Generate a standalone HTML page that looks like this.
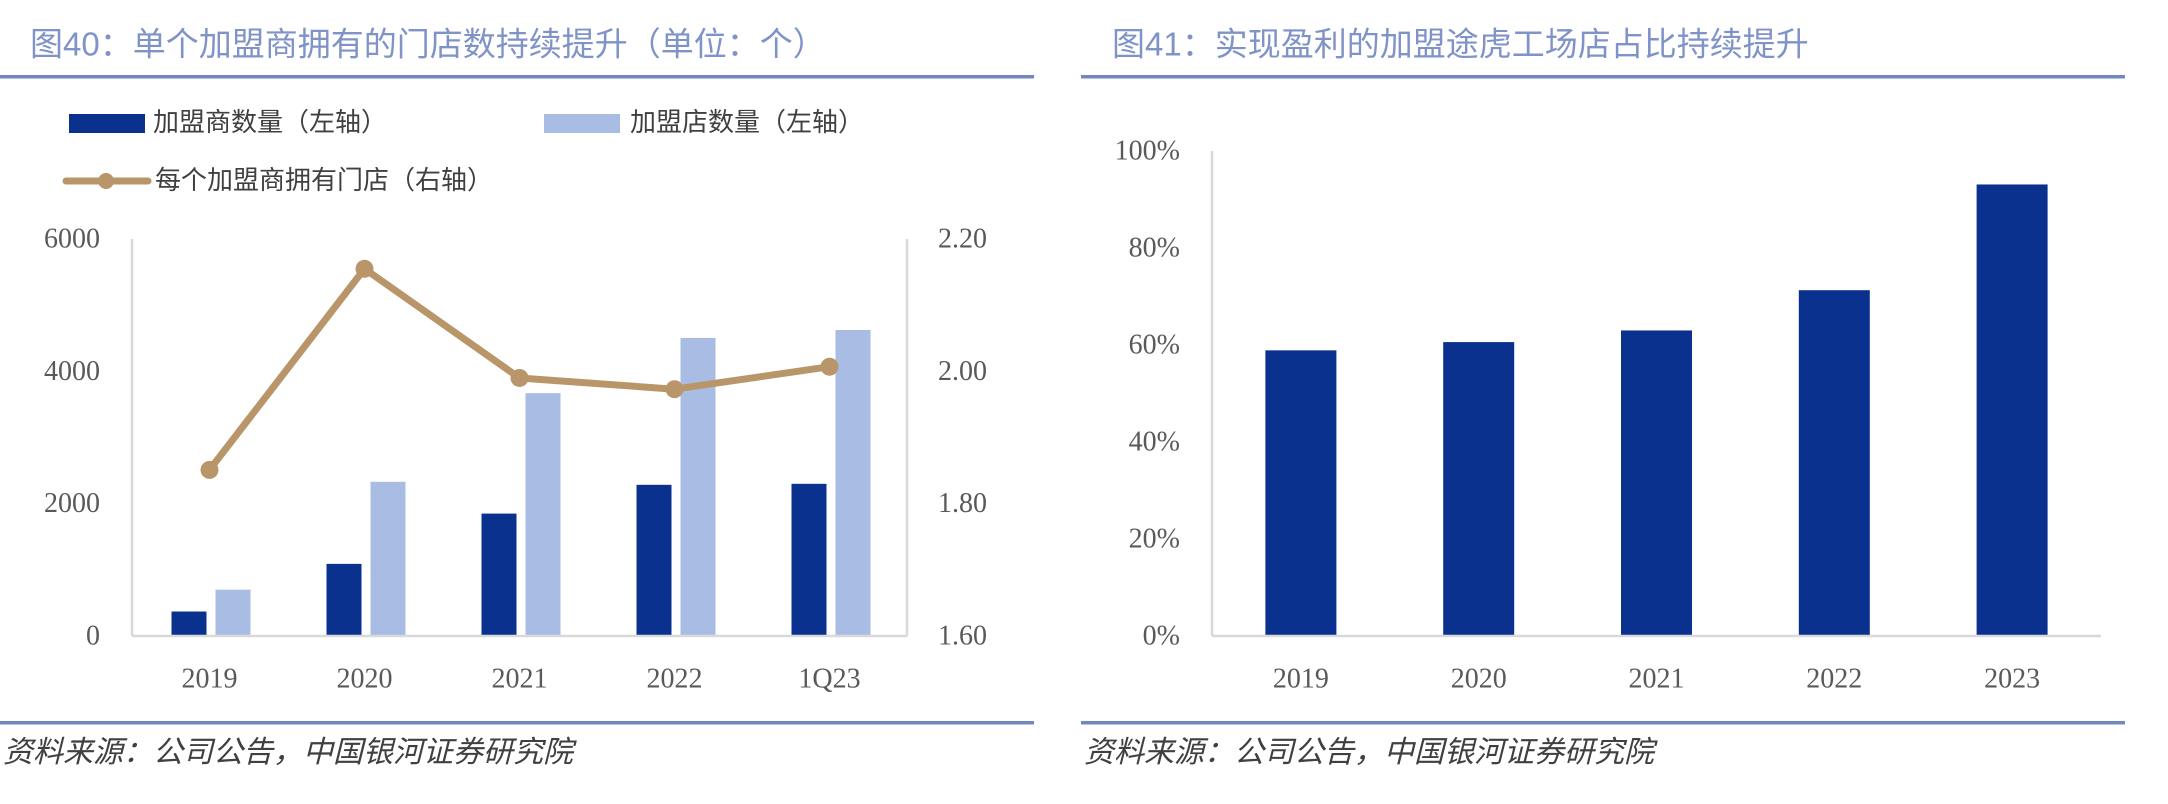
<!DOCTYPE html>
<html><head><meta charset="utf-8"><style>
html,body{margin:0;padding:0;background:#fff;}
svg{display:block;}
text{font-family:"Liberation Serif","Noto Serif CJK SC",serif;}
.cjk{font-family:"Liberation Sans","Noto Sans CJK SC",sans-serif;}
</style></head><body>
<svg id="s" width="2168" height="804" viewBox="0 0 2168 804" xmlns="http://www.w3.org/2000/svg">
<text class="cjk" x="30" y="47" font-size="33" fill="#7f93c8" dominant-baseline="middle">图40：单个加盟商拥有的门店数持续提升（单位：个）</text>
<rect x="0" y="75" width="1034" height="3.5" fill="#7089bd"/>
<text class="cjk" x="1112" y="47" font-size="33" fill="#7f93c8" dominant-baseline="middle">图41：实现盈利的加盟途虎工场店占比持续提升</text>
<rect x="1081" y="75" width="1044" height="3.5" fill="#7089bd"/>
<rect x="0" y="721" width="1034" height="3.5" fill="#7089bd"/>
<rect x="1081" y="721" width="1044" height="3.5" fill="#7089bd"/>
<text class="cjk" x="3" y="754" font-size="30" font-style="italic" fill="#404040" dominant-baseline="middle">资料来源：公司公告，中国银河证券研究院</text>
<text class="cjk" x="1084" y="754" font-size="30" font-style="italic" fill="#404040" dominant-baseline="middle">资料来源：公司公告，中国银河证券研究院</text>

<rect x="69" y="114" width="76" height="19" fill="#0b318f"/>
<text class="cjk" x="153" y="124" font-size="26" fill="#404040" dominant-baseline="middle">加盟商数量（左轴）</text>
<rect x="544" y="114" width="76" height="19" fill="#a9bde4"/>
<text class="cjk" x="630" y="124" font-size="26" fill="#404040" dominant-baseline="middle">加盟店数量（左轴）</text>
<line x1="66" y1="181" x2="148" y2="181" stroke="#b9966a" stroke-width="7" stroke-linecap="round"/>
<circle cx="106" cy="181" r="8" fill="#b9966a"/>
<text class="cjk" x="155" y="182" font-size="26" fill="#404040" dominant-baseline="middle">每个加盟商拥有门店（右轴）</text>
<g id="g1"></g><g id="g2"></g>
</svg>
<script>
const cats1 = ["2019","2020","2021","2022","1Q23"];
const franchisees = [370, 1090, 1850, 2285, 2300];
const stores = [700, 2330, 3670, 4505, 4625];
const ratio = [1.851, 2.155, 1.990, 1.973, 2.007];
const leftTicks = ["0","2000","4000","6000"];
const rightTicks = ["1.60","1.80","2.00","2.20"];
const cats2 = ["2019","2020","2021","2022","2023"];
const profitShare = [0.589, 0.606, 0.630, 0.713, 0.931];
const pctTicks = ["0%","20%","40%","60%","80%","100%"];

const NS="http://www.w3.org/2000/svg";
function mk(parent,tag,attrs,txt){const e=document.createElementNS(NS,tag);for(const k in attrs)e.setAttribute(k,attrs[k]);if(txt!==undefined)e.textContent=txt;parent.appendChild(e);return e;}

// chart 1
const g1=document.getElementById('g1');
const L1=132,R1=907,T1=239,B1=636;
const yL=v=>B1-(v/6000)*(B1-T1);
const yR=v=>B1-((v-1.6)/0.6)*(B1-T1);
const step1=(R1-L1)/cats1.length;
const cx1=i=>L1+step1*(i+0.5);
let e;
e=mk(g1,'line',{x1:L1,y1:T1,x2:L1,y2:B1,stroke:'#d9d9d9','stroke-width':2.5});


e=mk(g1,'line',{x1:R1,y1:T1,x2:R1,y2:B1,stroke:'#d9d9d9','stroke-width':2.5});


leftTicks.forEach((t,i)=>{
  e=mk(g1,'text',{x:100,y:yL(+t)+2,'font-size':28,fill:'#595959','text-anchor':'end','dominant-baseline':'middle'},t);
  
  
});
rightTicks.forEach((t)=>{
  e=mk(g1,'text',{x:938,y:yR(+t)+2,'font-size':28,fill:'#595959','dominant-baseline':'middle'},t);
  
  
});
cats1.forEach((c,i)=>{
  const x=cx1(i);
  e=mk(g1,'rect',{x:x-38,y:yL(franchisees[i]),width:35,height:B1-yL(franchisees[i]),fill:'#0b318f'});
  
  
  e=mk(g1,'rect',{x:x+6,y:yL(stores[i]),width:35,height:B1-yL(stores[i]),fill:'#a9bde4'});
  
  
  e=mk(g1,'text',{x:x,y:681,'font-size':28,fill:'#595959','text-anchor':'middle','dominant-baseline':'middle'},c);
  
  
});
e=mk(g1,'line',{x1:L1,y1:B1,x2:R1,y2:B1,stroke:'#d9d9d9','stroke-width':2.5});


e=mk(g1,'polyline',{points:ratio.map((v,i)=>cx1(i)+','+yR(v)).join(' '),fill:'none',stroke:'#b9966a','stroke-width':7,'stroke-linejoin':'round'});


ratio.forEach((v,i)=>{
  e=mk(g1,'circle',{cx:cx1(i),cy:yR(v),r:9,fill:'#b9966a'});
  
  
});

// chart 2
const g2=document.getElementById('g2');
const L2=1212,R2=2101,T2=151,B2=636;
const y2=v=>B2-v*(B2-T2);
const step2=(R2-L2)/cats2.length;
const cx2=i=>L2+step2*(i+0.5);
e=mk(g2,'line',{x1:L2,y1:T2,x2:L2,y2:B2,stroke:'#d9d9d9','stroke-width':2.5});


pctTicks.forEach((t)=>{
  e=mk(g2,'text',{x:1180,y:y2(parseFloat(t)/100)+2,'font-size':28,fill:'#595959','text-anchor':'end','dominant-baseline':'middle'},t);
  
  
});
cats2.forEach((c,i)=>{
  const x=cx2(i);
  e=mk(g2,'rect',{x:x-35.5,y:y2(profitShare[i]),width:71,height:B2-y2(profitShare[i]),fill:'#0b318f'});
  
  
  e=mk(g2,'text',{x:x,y:681,'font-size':28,fill:'#595959','text-anchor':'middle','dominant-baseline':'middle'},c);
  
  
});
e=mk(g2,'line',{x1:L2,y1:B2,x2:R2,y2:B2,stroke:'#d9d9d9','stroke-width':2.5});


</script>
</body></html>
